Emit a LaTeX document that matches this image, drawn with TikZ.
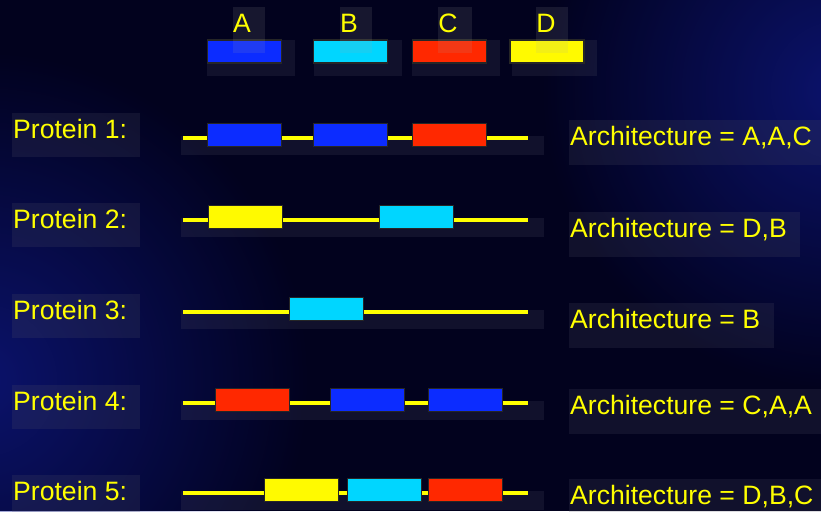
\documentclass[tikz,border=0pt]{standalone}
\usepackage{fontspec}
\setmainfont{Liberation Sans}
\usetikzlibrary{positioning, fadings}

\definecolor{bgdark}{RGB}{2,2,30}
\definecolor{bgblue}{RGB}{16,28,150}
\definecolor{domA}{RGB}{12,44,255}
\definecolor{domB}{RGB}{0,214,255}
\definecolor{domC}{RGB}{255,40,0}
\definecolor{domD}{RGB}{255,250,0}
\definecolor{txtyellow}{RGB}{255,255,0}
\definecolor{hilite}{RGB}{80,80,100}
\tikzfading[name=glow, inner color=transparent!35, outer color=transparent!100]

\tikzset{
  domainbox/.style={draw=black!85, line width=0.8pt, minimum width=74pt, minimum height=23pt, inner sep=0pt},
  backbone/.style={txtyellow, line width=4pt},
  txt/.style={text=txtyellow, font=\fontsize{26.6}{30}\selectfont, inner sep=0pt},
  hl/.style={fill=hilite, fill opacity=0.2},
}

\begin{document}
\begin{tikzpicture}[x=1pt,y=-1pt]
\useasboundingbox (0,0) rectangle (821,511);

% background
\fill[bgdark] (0,0) rectangle (821,511);
\begin{scope}
  \clip (0,0) rectangle (821,511);
  \fill[bgblue, path fading=glow] (-20,380) circle (330);
  \fill[bgblue, path fading=glow] (840,90) circle (300);
\end{scope}

% legend
\foreach \x/\w in {207/295, 314/402, 412/500, 512/597}
  \fill[hl] (\x,40) rectangle (\w,76);
\node[domainbox, fill=domA, line width=1.6pt] (legA) at (244.5,51.5) {};
\node[domainbox, fill=domB, line width=1.6pt] (legB) at (350.5,51.5) {};
\node[domainbox, fill=domC, line width=1.6pt] (legC) at (449.5,51.5) {};
\node[domainbox, fill=domD, line width=1.6pt] (legD) at (547,51.5) {};
\foreach \x/\w in {233/265, 340/372, 438/472, 536/568}
  \fill[gray!70, fill opacity=0.13] (\x,7) rectangle (\w,53);
\node[txt, anchor=base] (nameA) at (242,33) {A};
\node[txt, anchor=base] (nameB) at (349,33) {B};
\node[txt, anchor=base] (nameC) at (448,33) {C};
\node[txt, anchor=base] (nameD) at (546,33) {D};

% text backgrounds
\foreach \b in {138, 228, 319, 410, 500}
  \fill[hl] (12,\b-25) rectangle (140,\b+19);
\foreach \b/\w in {145/821, 237/800, 328/774, 414/821, 504/821}
  \fill[hl] (569,\b-25) rectangle (\w,\b+20);
\foreach \y in {138, 220, 312, 403, 493}
  \fill[hl] (181,\y-2) rectangle (544,\y+17);

% protein 1
\coordinate (p1s) at (183,138);
\coordinate (p1e) at (528,138);
\draw[backbone] (p1s) -- (p1e);
\node[domainbox, fill=domA] (p1a) at (244.5,134.5) {};
\node[domainbox, fill=domA] (p1b) at (350.5,134.5) {};
\node[domainbox, fill=domC] (p1c) at (449.5,134.5) {};

% protein 2
\coordinate (p2s) at (183,220);
\coordinate (p2e) at (528,220);
\draw[backbone] (p2s) -- (p2e);
\node[domainbox, fill=domD] (p2a) at (245,217) {};
\node[domainbox, fill=domB] (p2b) at (416.5,217) {};

% protein 3
\coordinate (p3s) at (183,312);
\coordinate (p3e) at (528,312);
\draw[backbone] (p3s) -- (p3e);
\node[domainbox, fill=domB] (p3a) at (326.5,308.5) {};

% protein 4
\coordinate (p4s) at (183,403);
\coordinate (p4e) at (528,403);
\draw[backbone] (p4s) -- (p4e);
\node[domainbox, fill=domC] (p4a) at (252.5,399.5) {};
\node[domainbox, fill=domA] (p4b) at (367.5,399.5) {};
\node[domainbox, fill=domA] (p4c) at (465.5,399.5) {};

% protein 5
\coordinate (p5s) at (183,493);
\coordinate (p5e) at (528,493);
\draw[backbone] (p5s) -- (p5e);
\node[domainbox, fill=domD] (p5a) at (301.5,490) {};
\node[domainbox, fill=domB] (p5b) at (384,490) {};
\node[domainbox, fill=domC] (p5c) at (465.5,490) {};

% labels
\node[txt, anchor=base west] (prot1) at (13,138) {Protein 1:};
\node[txt, anchor=base west] (prot2) at (13,228) {Protein 2:};
\node[txt, anchor=base west] (prot3) at (13,319) {Protein 3:};
\node[txt, anchor=base west] (prot4) at (13,410) {Protein 4:};
\node[txt, anchor=base west] (prot5) at (13,500) {Protein 5:};

\node[txt, anchor=base west] (arch1) at (570,145) {Architecture = A,A,C};
\node[txt, anchor=base west] (arch2) at (570,237) {Architecture = D,B};
\node[txt, anchor=base west] (arch3) at (570,328) {Architecture = B};
\node[txt, anchor=base west] (arch4) at (570,414) {Architecture = C,A,A};
\node[txt, anchor=base west] (arch5) at (570,504) {Architecture = D,B,C};
\end{tikzpicture}
\end{document}
